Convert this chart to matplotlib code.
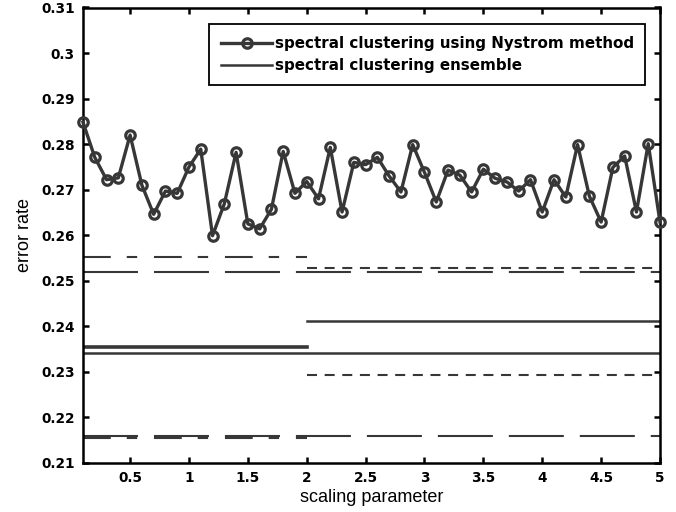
import numpy as np
import matplotlib
matplotlib.use('Agg')
import matplotlib.pyplot as plt
from matplotlib.ticker import FormatStrFormatter

plt.rcParams['lines.scale_dashes'] = False

# parametro de escala (eje x)
scale = np.linspace(0.1, 5.0, 50)

# error del metodo Nystrom
nystrom_err = [0.2848, 0.2771, 0.2722, 0.2726, 0.2820, 0.2710, 0.2646, 0.2697, 0.2692, 0.2750,
               0.2789, 0.2599, 0.2669, 0.2782, 0.2625, 0.2614, 0.2657, 0.2784, 0.2692, 0.2718,
               0.2680, 0.2793, 0.2651, 0.2760, 0.2755, 0.2771, 0.2730, 0.2695, 0.2799, 0.2738,
               0.2673, 0.2743, 0.2732, 0.2695, 0.2745, 0.2725, 0.2717, 0.2697, 0.2722, 0.2651,
               0.2722, 0.2684, 0.2799, 0.2686, 0.2629, 0.2749, 0.2774, 0.2651, 0.2801, 0.2629]

# niveles horizontales del ensemble
full_range = [0.1, 5.0]
left_range = [0.1, 2.0]
right_range = [2.0, 5.0]
full_levels = [0.2520, 0.2342, 0.2160]
left_levels = [0.2552, 0.2355, 0.2155]
right_levels = [0.2529, 0.2412, 0.2293]

col = '#373737'
long_dash = (0, (39.6, 11.5))
dash_dot = (0, (20.0, 11.5, 7.5, 12.1))
short_dash = (0, (7.2, 5.5))

fig = plt.figure(figsize=(6.76, 5.12), dpi=100)
ax = fig.add_axes([83 / 676, 1 - 463 / 512, (660 - 83) / 676, (463 - 7.5) / 512])

# lineas de rango completo
ax.plot(full_range, [full_levels[0]] * 2, color=col, lw=1.5, ls=long_dash)
ens, = ax.plot(full_range, [full_levels[1]] * 2, color=col, lw=1.8, ls='-')
ax.plot(full_range, [full_levels[2]] * 2, color=col, lw=1.5, ls=long_dash)

# lineas hasta 2
ax.plot(left_range, [left_levels[0]] * 2, color=col, lw=1.5, ls=dash_dot)
ax.plot(left_range, [left_levels[1]] * 2, color=col, lw=2.6, ls='-')
ax.plot(left_range, [left_levels[2]] * 2, color=col, lw=1.5, ls=dash_dot)

# lineas desde 2
ax.plot(right_range, [right_levels[0]] * 2, color=col, lw=1.5, ls=short_dash)
ax.plot(right_range, [right_levels[1]] * 2, color=col, lw=1.8, ls='-')
ax.plot(right_range, [right_levels[2]] * 2, color=col, lw=1.5, ls=short_dash)

nys, = ax.plot(scale, nystrom_err, color=col, lw=2.4, marker='o', ms=6.8,
               mew=2.3, mfc='none', mec=col, clip_on=False, zorder=5)

ax.set_xlim(0.1, 5.0)
ax.set_ylim(0.21, 0.31)
ax.set_xticks(np.arange(0.5, 5.01, 0.5))
ax.set_yticks(np.arange(0.21, 0.3101, 0.01))
ax.xaxis.set_major_formatter(FormatStrFormatter('%g'))
ax.yaxis.set_major_formatter(FormatStrFormatter('%g'))

for s in ax.spines.values():
    s.set_linewidth(1.8)
    s.set_color('black')
ax.tick_params(direction='in', length=4.3, width=1.8, top=True, right=True,
               labelsize=9.8, pad=6)
for lab in ax.get_xticklabels() + ax.get_yticklabels():
    lab.set_fontweight('bold')
    lab.set_family('DejaVu Sans')

ax.set_xlabel('scaling parameter', family='Liberation Sans', fontsize=13, labelpad=3)
ax.set_ylabel('error rate', family='Liberation Sans', fontsize=13, labelpad=6)

leg = ax.legend([nys, ens], ['spectral clustering using Nystrom method',
                             'spectral clustering ensemble'],
                loc='upper right', bbox_to_anchor=(1 - 15 / 577, 1 - 17 / 455.5),
                prop={'family': 'DejaVu Sans', 'weight': 'bold', 'size': 10.9},
                fancybox=False, framealpha=1, edgecolor='black', numpoints=1,
                handlelength=3.4, handletextpad=0.15, borderpad=0.75,
                labelspacing=0.5, borderaxespad=0)
leg.get_frame().set_linewidth(1.3)

fig.savefig('out.png', dpi=100)
